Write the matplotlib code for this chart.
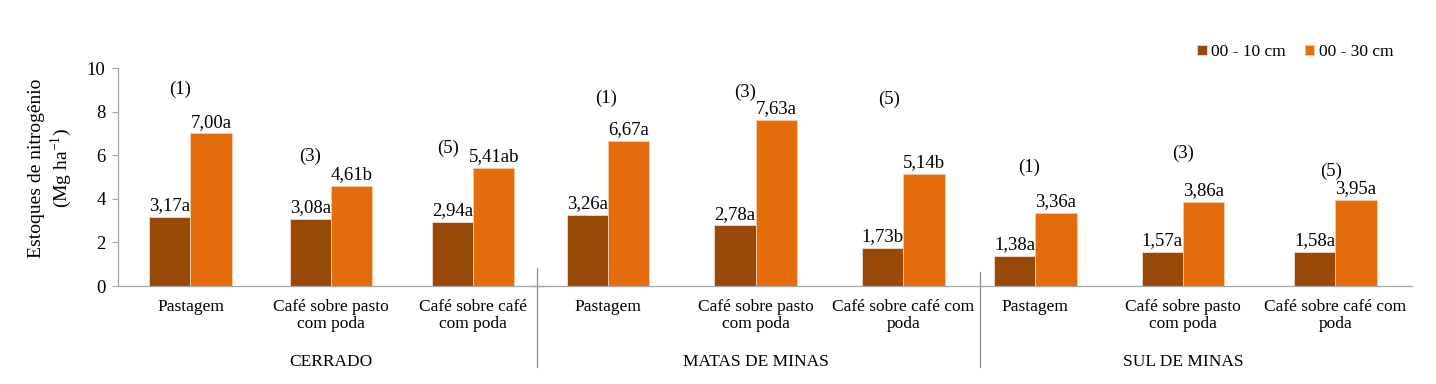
import matplotlib
matplotlib.use("Agg")
import matplotlib.pyplot as plt
import matplotlib.transforms as mtransforms

plt.rcParams["font.family"] = ["Liberation Serif", "DejaVu Serif"]
plt.rcParams["font.size"] = 12.5
plt.rcParams["axes.unicode_minus"] = False
plt.rcParams["mathtext.fontset"] = "custom"
plt.rcParams["mathtext.rm"] = "Liberation Serif"

# data
regions = ["CERRADO", "MATAS DE MINAS", "SUL DE MINAS"]
systems = [
    ["Pastagem", "Café sobre pasto\ncom poda", "Café sobre café\ncom poda"],
    ["Pastagem", "Café sobre pasto\ncom poda", "Café sobre café com\npoda"],
    ["Pastagem", "Café sobre pasto\ncom poda", "Café sobre café com\npoda"],
]
n_0_10 = [3.17, 3.08, 2.94, 3.26, 2.78, 1.73, 1.38, 1.57, 1.58]
n_0_30 = [7.00, 4.61, 5.41, 6.67, 7.63, 5.14, 3.36, 3.86, 3.95]
lab_0_10 = ["3,17a", "3,08a", "2,94a", "3,26a", "2,78a", "1,73b", "1,38a", "1,57a", "1,58a"]
lab_0_30 = ["7,00a", "4,61b", "5,41ab", "6,67a", "7,63a", "5,14b", "3,36a", "3,86a", "3,95a"]
notes = ["(1)", "(3)", "(5)"] * 3

# layout: category centres, separators, where the (n) notes sit
xpos = [0, 0.97, 1.95, 2.88, 3.90, 4.92, 5.83, 6.85, 7.90]
seps = [2.39, 5.45]
note_dx = [-0.07, -0.145, -0.17, -0.01, -0.07, -0.10, -0.04, 0.0, -0.03]
note_y = [9.0, 5.96, 6.33, 8.62, 8.9, 8.58, 5.46, 6.1, 5.28]

dark = "#984807"
orange = "#E46C0A"

fig = plt.figure(figsize=(14.36, 3.84), dpi=100)
ax = fig.add_axes([0.0822, 0.2552, 0.9011, 0.5677])

w = 0.285
x_dark = [p - w / 2 for p in xpos]
x_or = [p + w / 2 for p in xpos]

ax.bar(x_dark, n_0_10, w, color=dark, edgecolor="#F2DCCB", linewidth=0.6, label="00 - 10 cm")
ax.bar(x_or, n_0_30, w, color=orange, edgecolor="#F8CBA8", linewidth=0.6, label="00 - 30 cm")

for i in range(len(xpos)):
    ax.annotate(lab_0_10[i], (x_dark[i], n_0_10[i]), xytext=(0, 2),
                textcoords="offset points", ha="center", va="bottom", fontsize=13.5)
    ax.annotate(lab_0_30[i], (x_or[i], n_0_30[i]), xytext=(0, 2),
                textcoords="offset points", ha="center", va="bottom", fontsize=13.5)
    ax.text(xpos[i] + note_dx[i], note_y[i], notes[i], ha="center", va="center", fontsize=13.5)

ax.set_xlim(-0.5, 8.43)
ax.set_ylim(0, 10)
ax.set_yticks(range(0, 11, 2))
ax.set_xticks([])

for s in ["top", "right"]:
    ax.spines[s].set_visible(False)
for s in ["left", "bottom"]:
    ax.spines[s].set_color("#A6A6A6")
    ax.spines[s].set_linewidth(0.9)
ax.tick_params(axis="y", length=4, color="#A6A6A6", pad=5, labelsize=13.5)

# category and region labels under the axis
trans = mtransforms.blended_transform_factory(ax.transData, ax.transAxes)
for g in range(3):
    for j in range(3):
        ax.text(xpos[g * 3 + j], -0.058, systems[g][j], transform=trans,
                ha="center", va="top", linespacing=1.15)
    ax.text(xpos[g * 3 + 1], -0.35, regions[g], transform=trans, ha="center", va="center")

# group separators
for k, sx in enumerate(seps):
    top = 0.083 if k == 0 else 0.064
    ax.plot([sx, sx], [top, -0.37], transform=trans, color="#8C8C8C",
            linewidth=0.9, clip_on=False)
ax.plot([seps[0] - 0.05, seps[0] + 0.05], [0, 0], color="#8C8C8C",
        linewidth=0.9, clip_on=False)

fig.text(51 / 1436, 1 - 168 / 384, "Estoques de nitrogênio\n(Mg ha$^{\\mathregular{-1}}$)",
         rotation=90, ha="center", va="center", multialignment="center", fontsize=14)

fig.legend(loc="center right", bbox_to_anchor=(1400 / 1436, 1 - 52 / 384), ncol=2,
           frameon=False, handlelength=0.55, handleheight=0.55, handletextpad=0.25,
           columnspacing=1.1, borderaxespad=0)

fig.savefig("out.png", dpi=100)
